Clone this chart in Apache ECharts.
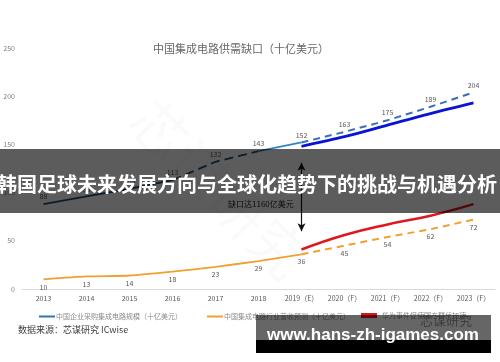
<!DOCTYPE html>
<html><head><meta charset="utf-8">
<script src="https://cdn.jsdelivr.net/npm/echarts@6/dist/echarts.min.js"></script>
<style>html,body{margin:0;padding:0;background:#fff;}#c{width:500px;height:362px;}</style>
</head><body><div id="c"></div>
<script>
var categories = ['2013','2014','2015','2016','2017','2018','2019（E）','2020（F）','2021（F）','2022（F）','2023（F）'];
var yTicks = [0, 50, 100, 150, 200, 250];
// 中国企业采购集成电路规模 (historical, 2013-2019)
var demandHist = [88, 96, 104, 113, 132, 143, 152];
// 需求预测 dashed (2019-2023)
var demandForecast = [152, 163, 175, 189, 204];
// 需求实线预测 (2019-2023)
var demandForecastSolid = [148, 158, 170, 182, 193];
// 中国集成电路行业营收 (2013-2019)
var revenueHist = [10, 13, 14, 18, 23, 29, 36];
// 营收预测 dashed (2019-2023)
var revenueForecast = [36, 45, 54, 62, 72];
// 华为事件促使国产替代加速
var huawei = [41, 56, 67, 76, 88];
var gapTop = 131, gapBottom = 60;

var N = categories.length;
function place(vals, start, end, labelIdx) {
  var out = [];
  for (var i = 0; i < N; i++) {
    if (i >= start && i <= end) {
      var v = vals[i - start];
      var item = {value: v};
      if (labelIdx && labelIdx.indexOf(i) < 0) item.label = {show: false};
      out.push(item);
    } else out.push('-');
  }
  return out;
}
var nameD = '中国企业采购集成电路规模（十亿美元）';
var nameR = '中国集成电路行业营收预测（十亿美元）';
var nameH = '华为事件促使国产替代加速';
var FONT = '"Noto Sans CJK SC", "Noto Sans", sans-serif';
var lblTop = {show: true, position: 'top', distance: 4, fontSize: 7, color: '#595959', fontFamily: FONT};
var lblBot = {show: true, position: 'bottom', distance: 4, fontSize: 7, color: '#595959', fontFamily: FONT};

var chart = echarts.init(document.getElementById('c'), null, {renderer: 'canvas'});
chart.setOption({
  animation: false,
  backgroundColor: '#fff',
  textStyle: {fontFamily: FONT},
  title: {text: '中国集成电路供需缺口（十亿美元）', left: 148, top: 38,
    textStyle: {fontSize: 11, fontWeight: 'normal', color: '#666', fontFamily: FONT}},
  grid: {left: 22, right: 5, top: 48, bottom: 73},
  xAxis: {type: 'category', data: categories,
    axisLine: {lineStyle: {color: '#d9d9d9', width: 1}}, axisTick: {show: false},
    axisLabel: {fontSize: 7, color: '#595959', margin: 6, interval: 0, fontFamily: FONT}},
  yAxis: {type: 'value', min: yTicks[0], max: yTicks[yTicks.length - 1], interval: 50,
    axisLine: {show: false}, axisTick: {show: false}, splitLine: {show: false},
    axisLabel: {fontSize: 7, color: '#7f7f7f', margin: 7, fontFamily: FONT}},
  legend: [
    {left: 34, top: 308, itemWidth: 16, itemHeight: 2, itemGap: 2, data: [{name: nameD, icon: 'rect', itemStyle: {color: '#2e75b6'}}],
      textStyle: {fontSize: 7, color: '#8c8c8c', padding: [0, 0, 0, -4]}},
    {left: 202, top: 308, itemWidth: 16, itemHeight: 2, data: [{name: nameR, icon: 'rect', itemStyle: {color: '#f0a030'}}],
      textStyle: {fontSize: 7, color: '#8c8c8c', padding: [0, 0, 0, -4]}},
    {left: 356, top: 307, itemWidth: 16, itemHeight: 5, data: [{name: nameH, icon: 'rect', itemStyle: {color: '#e0161e'}}],
      textStyle: {fontSize: 7, color: '#8c8c8c'}}
  ],
  series: [
    {name: nameD, type: 'line', data: place(demandHist.slice(0, 4), 0, 3), symbol: 'circle', symbolSize: 0,
      lineStyle: {color: '#1f4e79', width: 1.8}, itemStyle: {color: '#1f4e79'}, label: lblTop},
    {name: nameD, type: 'line', data: place(demandHist.slice(3, 6), 3, 5, [4, 5]), symbol: 'circle', symbolSize: 0,
      lineStyle: {color: '#1f4e79', width: 1.8, type: [9, 5]}, itemStyle: {color: '#1f4e79'}, label: lblTop},
    {name: nameD, type: 'line', data: place(demandHist.slice(5, 7), 5, 6, [6]), symbol: 'circle', symbolSize: 0,
      lineStyle: {color: '#2e86c8', width: 1.8}, itemStyle: {color: '#2e86c8'}, label: lblTop},
    {name: nameD, type: 'line', data: place(demandForecast, 6, 10, [7, 8, 9, 10]), symbol: 'circle', symbolSize: 0,
      lineStyle: {color: '#3a6fb8', width: 2, type: [7, 5]}, itemStyle: {color: '#3a6fb8'}, label: lblTop},
    {name: 'demandSolid', type: 'line', data: place(demandForecastSolid, 6, 10), symbol: 'none', smooth: 0.3,
      lineStyle: {color: '#0a14d2', width: 2.8}, itemStyle: {color: '#0a14d2'}},
    {name: nameR, type: 'line', data: place(revenueHist, 0, 6), symbol: 'circle', symbolSize: 0, smooth: 0.2,
      lineStyle: {color: '#f0a030', width: 1.8}, itemStyle: {color: '#f0a030'}, label: lblBot},
    {name: nameR, type: 'line', data: place(revenueForecast, 6, 10, [7, 8, 9, 10]), symbol: 'circle', symbolSize: 0,
      lineStyle: {color: '#f0a030', width: 2, type: [7, 5]}, itemStyle: {color: '#f0a030'}, label: lblBot},
    {name: nameH, type: 'line', data: place(huawei, 6, 10), symbol: 'none', smooth: 0.45,
      lineStyle: {color: '#e0161e', width: 2.5}, itemStyle: {color: '#e0161e'},
      markLine: {silent: true, symbol: ['arrow', 'arrow'], symbolSize: [6, 8], label: {show: false},
        lineStyle: {color: '#111', width: 1.2, type: 'solid'},
        data: [[{coord: ['2019（E）', gapTop]}, {coord: ['2019（E）', gapBottom]}]]}}
  ],
  graphic: [
    {type: 'text', left: 120, top: 90, rotation: -Math.PI / 4, z: 1, silent: true,
      style: {text: '芯谋研究', fontSize: 56, fontFamily: FONT, fill: 'rgba(0,0,0,0.018)'}},
    {type: 'text', x: 228, y: 204, z: 50, style: {text: '缺口达1160亿美元', fontSize: 8, fill: '#262626', fontFamily: FONT, verticalAlign: 'middle'}},
    {type: 'text', x: 18, y: 330, z: 50, style: {text: '数据来源：芯谋研究 ICwise', fontSize: 9, fill: '#404040', fontFamily: FONT, verticalAlign: 'middle'}},
    {type: 'rect', shape: {x: 0, y: 149, width: 500, height: 64}, z: 100, style: {fill: 'rgba(0,0,0,0.64)'}},
    {type: 'text', x: 247, y: 184, z: 101, style: {text: '韩国足球未来发展方向与全球化趋势下的挑战与机遇分析', fontSize: 20, fontWeight: 'bold', fill: '#fff', fontFamily: FONT, align: 'center', verticalAlign: 'middle'}},
    {type: 'text', x: 420, y: 320, z: 98, style: {text: '芯谋研究', fontSize: 13, fill: '#9a9a9a', fontFamily: FONT, verticalAlign: 'middle'}},
    {type: 'rect', shape: {x: 256, y: 315, width: 235, height: 26}, z: 100, style: {fill: 'rgba(0,0,0,0.6)'}},
    {type: 'rect', shape: {x: 256, y: 340, width: 235, height: 13}, z: 100, style: {fill: '#000'}},
    {type: 'text', x: 373, y: 335, z: 101, style: {text: 'www.hans-zh-igames.com', fontSize: 17, fontWeight: 'bold', fill: '#fff', fontFamily: '"Liberation Sans", Arial, sans-serif', align: 'center', verticalAlign: 'middle'}}
  ]
});
</script></body></html>
